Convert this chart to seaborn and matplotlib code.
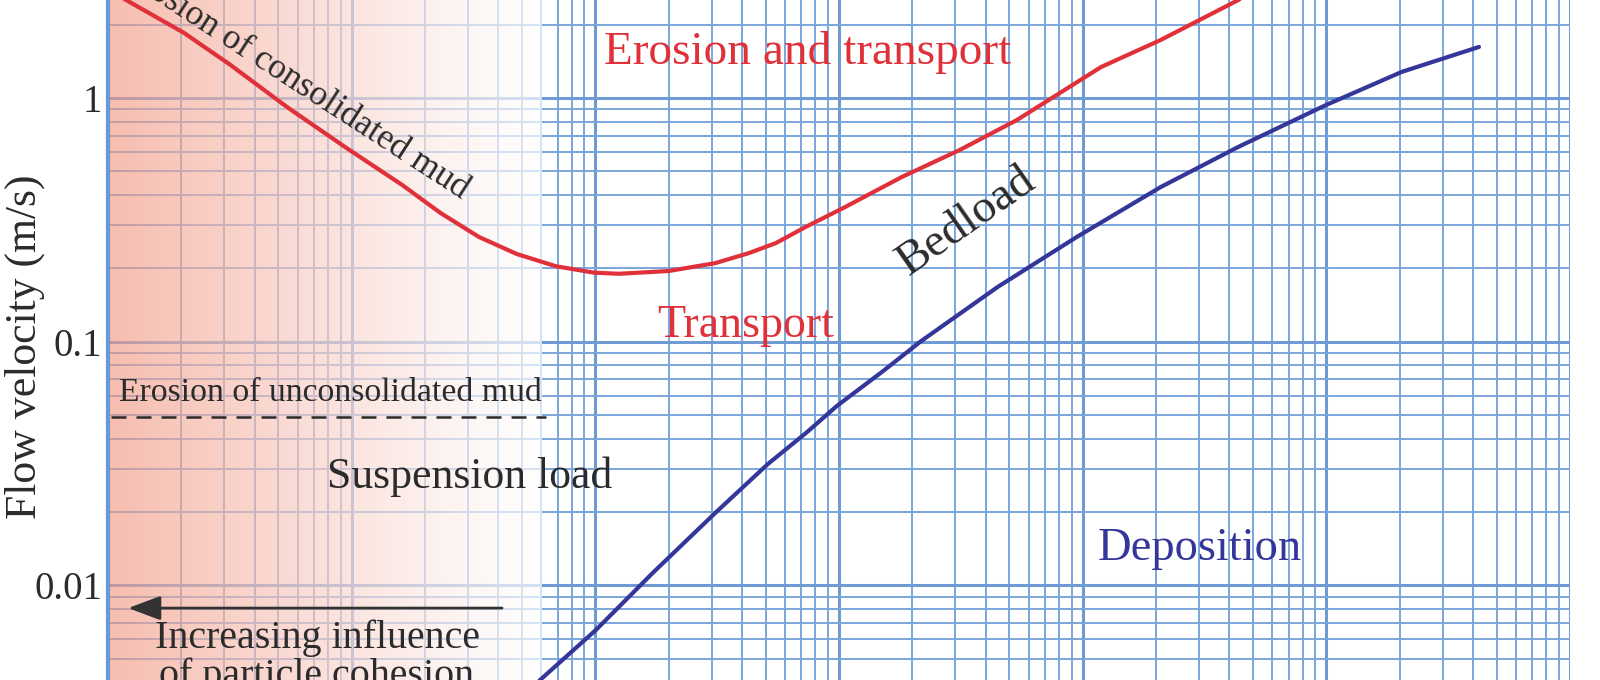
"""Hjulstrom-style diagram: flow velocity vs grain size (cropped view)."""

import numpy as np
import matplotlib
matplotlib.use("Agg")
import matplotlib.pyplot as plt
from matplotlib.ticker import LogLocator, NullFormatter
import seaborn as sns

# --- data (grain size in mm, velocity in m/s) ---
erosion_size = [0.001, 0.00119, 0.00205, 0.00317, 0.00543, 0.0094, 0.0161, 0.0232,
                0.0333, 0.0476, 0.0689, 0.0986, 0.125, 0.2, 0.31, 0.427, 0.551,
                0.731, 1.06, 1.81, 3.13, 5.37, 11.9, 20.9, 43.4, 64.0]
erosion_vel = [2.77, 2.52, 1.85, 1.37, 0.918, 0.629, 0.44, 0.337,
               0.269, 0.229, 0.204, 0.192, 0.19, 0.195, 0.21, 0.231, 0.254,
               0.296, 0.357, 0.474, 0.612, 0.812, 1.34, 1.73, 2.52, 3.2]

deposition_size = [0.050, 0.0593, 0.1005, 0.172, 0.31, 0.511, 0.738, 0.98, 1.51,
                   2.17, 4.49, 9.46, 20.9, 43.4, 99.5, 204.0, 423.0]
deposition_vel = [0.0034, 0.00409, 0.00656, 0.01125, 0.0198, 0.0315, 0.0425, 0.0545,
                  0.0755, 0.1005, 0.168, 0.269, 0.431, 0.629, 0.935, 1.28, 1.62]

unconsolidated_size = [0.00103, 0.0626]
unconsolidated_vel = [0.049, 0.049]

ytick_vals = [0.01, 0.1, 1]
ytick_labels = ["0.01", "0.1", "1"]

RED = "#e0303a"
BLUE = "#34369a"
INK = "#2b2b2b"
GRID = "#7aa6dc"

sns.set_style("white")
plt.rcParams["font.family"] = ["Liberation Serif", "DejaVu Serif"]

fig = plt.figure(figsize=(16, 6.8), dpi=100)
ax = fig.add_axes([108 / 1600, 0, 1462 / 1600, 1])
ax.set_xscale("log")
ax.set_yscale("log")
ax.set_xlim(1e-3, 1e3)
ax.set_ylim(10 ** (-582 / 243.7), 10 ** (98 / 243.7))

# log grid
ax.xaxis.set_major_locator(LogLocator(base=10, numticks=20))
ax.xaxis.set_minor_locator(LogLocator(base=10, subs=np.arange(2, 10), numticks=100))
ax.yaxis.set_minor_locator(LogLocator(base=10, subs=np.arange(2, 10), numticks=100))
ax.set_yticks(ytick_vals, ytick_labels)
ax.xaxis.set_major_formatter(NullFormatter())
ax.xaxis.set_minor_formatter(NullFormatter())
ax.yaxis.set_minor_formatter(NullFormatter())
ax.set_axisbelow(True)
ax.grid(True, which="major", color="#6e9bd4", lw=2.2)
ax.grid(True, which="minor", color=GRID, lw=1.4)
ax.tick_params(which="both", length=0)
ax.tick_params(axis="y", labelsize=28, labelcolor=INK, pad=4)
for side in ["top", "right", "bottom"]:
    ax.spines[side].set_visible(False)
ax.spines["left"].set_color("#6a9ad6")
ax.spines["left"].set_linewidth(3)

# cohesion shading over the fine-grain end
t = np.linspace(0, 1, 300)
w = (1 - t) ** 1.2
salmon = np.array([242, 150, 128]) / 255
rgba = np.zeros((1, t.size, 4))
rgba[0, :, :3] = (1 - w)[:, None] * 1.0 + w[:, None] * salmon
rgba[0, :, 3] = 0.62 + 0.08 * t
ax.imshow(rgba, extent=[0, 434 / 1462, 0, 1], transform=ax.transAxes,
          aspect="auto", zorder=1, interpolation="bilinear")

sns.lineplot(x=erosion_size, y=erosion_vel, ax=ax, color=RED, lw=3,
             sort=False, errorbar=None, zorder=3)
sns.lineplot(x=deposition_size, y=deposition_vel, ax=ax, color=BLUE, lw=3,
             sort=False, errorbar=None, zorder=3)
sns.lineplot(x=unconsolidated_size, y=unconsolidated_vel, ax=ax, color=INK, lw=1.8,
             linestyle=(0, (6, 4)), sort=False, errorbar=None, zorder=3)

# labels
ax.text(0.745, 1.53, "Erosion and transport", color=RED, fontsize=34,
        ha="center", va="center", zorder=4)
ax.text(0.415, 0.116, "Transport", color=RED, fontsize=33,
        ha="center", va="center", zorder=4)
ax.text(3.35, 0.31, "Bedload", color=INK, fontsize=34, rotation=35,
        ha="center", va="center", rotation_mode="anchor", zorder=4)
ax.text(30.3, 0.0141, "Deposition", color=BLUE, fontsize=33.5,
        ha="center", va="center", zorder=4)
ax.text(0.0305, 0.0278, "Suspension load", color=INK, fontsize=31.5,
        ha="center", va="center", zorder=4)
ax.text(0.00111, 0.0615, "Erosion of unconsolidated mud", color=INK, fontsize=24.3,
        ha="left", va="center", zorder=4)
ax.text(0.0282, 0.385, "Erosion of consolidated mud", color=INK, fontsize=25.5,
        rotation=-33, rotation_mode="anchor", ha="right", va="baseline", zorder=4)
ax.text(0.00721, 0.00553, "Increasing influence", color=INK, fontsize=28.8,
        ha="center", va="baseline", zorder=4)
ax.text(0.00721, 0.00386, "of particle cohesion", color=INK, fontsize=28.8,
        ha="center", va="baseline", zorder=4)
ax.annotate("", xy=(0.00121, 0.00807), xytext=(0.0414, 0.00807),
            arrowprops=dict(arrowstyle="-|>,head_length=0.8,head_width=0.3",
                            color="#333333", lw=2, mutation_scale=25,
                            shrinkA=0, shrinkB=0), zorder=4)

ax.set_ylabel("Flow velocity (m/s)", fontsize=31.5, color=INK)
ax.yaxis.set_label_coords(-63 / 1462, 0.49)

fig.savefig("out.png", dpi=100)
plt.close(fig)
